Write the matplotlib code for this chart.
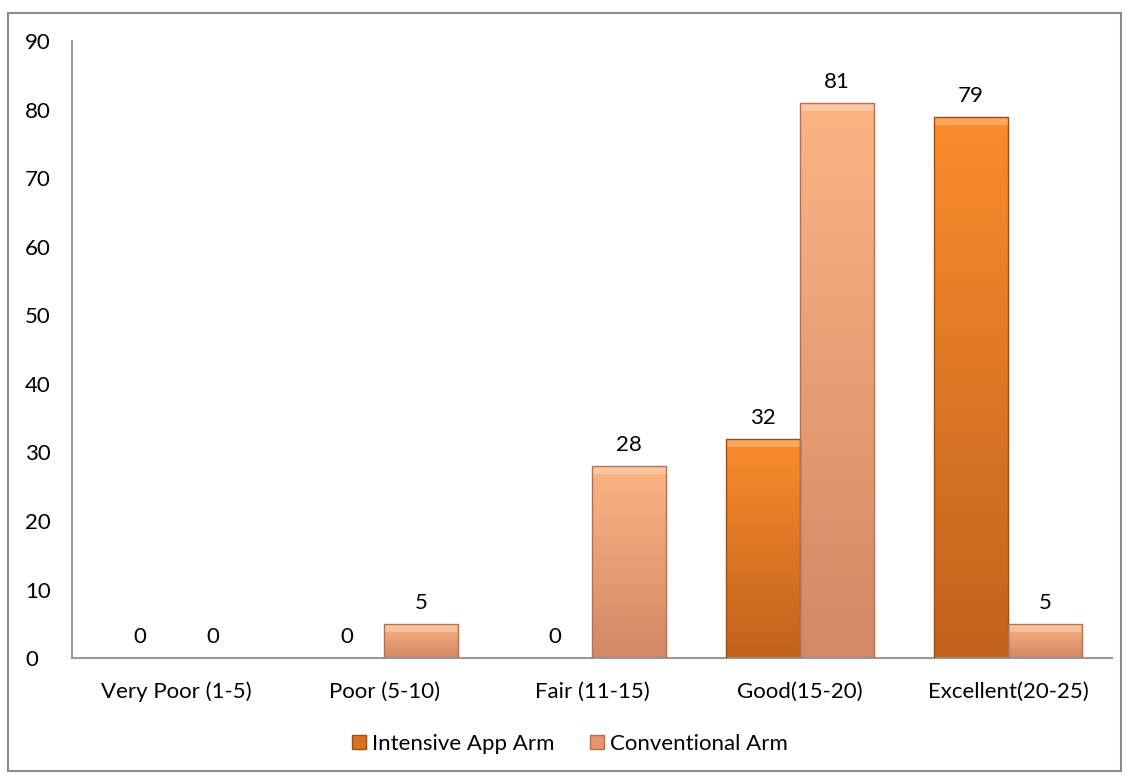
import numpy as np
import matplotlib.pyplot as plt
from matplotlib.patches import Rectangle, Patch
from matplotlib.colors import LinearSegmentedColormap

# data
categories = ["Very Poor (1-5)", "Poor (5-10)", "Fair (11-15)", "Good(15-20)", "Excellent(20-25)"]
intensive = [0, 0, 0, 32, 79]
conventional = [0, 5, 28, 81, 5]
series_names = ["Intensive App Arm", "Conventional Arm"]

plt.rcParams['font.family'] = ['Lato', 'DejaVu Sans']

fig = plt.figure(figsize=(11.29, 7.76), dpi=100)
ax = fig.add_axes([0.064, 0.152, 0.921, 0.795])

# outer border of the chart area
fig.patches.append(Rectangle((0.007, 0.007), 0.986, 0.976, transform=fig.transFigure,
                             fill=False, edgecolor="#8c8c8c", linewidth=1.5))

cmap_int = LinearSegmentedColormap.from_list("int", ["#fb8c2c", "#c1621d"])
cmap_con = LinearSegmentedColormap.from_list("con", ["#fdb483", "#d38866"])
edge_int = "#9a4e16"
edge_con = "#b07256"

x = np.arange(len(categories))
w = 0.355
grad = np.linspace(0, 1, 256).reshape(-1, 1)

def gradient_bars(xs, vals, cmap, edge):
    for xi, v in zip(xs, vals):
        if v <= 0:
            continue
        rect = Rectangle((xi - w / 2, 0), w, v, facecolor="none", edgecolor=edge,
                         linewidth=1.0, zorder=3)
        ax.add_patch(rect)
        im = ax.imshow(grad, cmap=cmap, aspect="auto", origin="upper",
                       extent=(xi - w / 2, xi + w / 2, 0, v), zorder=2)
        im.set_clip_path(rect)
        # bevel highlight on top
        bh = min(1.2, v * 0.25)
        ax.add_patch(Rectangle((xi - w / 2, v - bh), w, bh, facecolor="white",
                               alpha=0.25, edgecolor="none", zorder=2.5))

gradient_bars(x - w / 2, intensive, cmap_int, edge_int)
gradient_bars(x + w / 2, conventional, cmap_con, edge_con)

for xi, v in zip(x - w / 2, intensive):
    ax.text(xi, v + 1.6, str(v), ha="center", va="bottom", fontsize=16, color="black")
for xi, v in zip(x + w / 2, conventional):
    ax.text(xi, v + 1.6, str(v), ha="center", va="bottom", fontsize=16, color="black")

ax.set_xlim(-0.5, len(categories) - 0.5)
ax.set_ylim(0, 90)
ax.set_yticks(range(0, 91, 10))
ax.set_xticks(x)
ax.set_xticklabels(categories)
ax.tick_params(axis="both", length=0, labelsize=16, colors="black")
ax.tick_params(axis="x", pad=17)
for lbl in ax.get_yticklabels():
    lbl.set_horizontalalignment("left")
ax.yaxis.set_tick_params(pad=34)

for s in ["top", "right"]:
    ax.spines[s].set_visible(False)
ax.spines["left"].set_color("#999999")
ax.spines["bottom"].set_color("#999999")
ax.spines["left"].set_linewidth(1.5)
ax.spines["bottom"].set_linewidth(1.5)

handles = [Patch(facecolor="#d9721f", edgecolor=edge_int),
           Patch(facecolor="#e6956d", edgecolor=edge_con)]
fig.legend(handles, series_names, loc="center", bbox_to_anchor=(0.505, 0.041), ncol=2,
           frameon=False, fontsize=16, handlelength=0.6, handleheight=0.6,
           handletextpad=0.3, columnspacing=1.6)

fig.savefig("out.png", dpi=100)
